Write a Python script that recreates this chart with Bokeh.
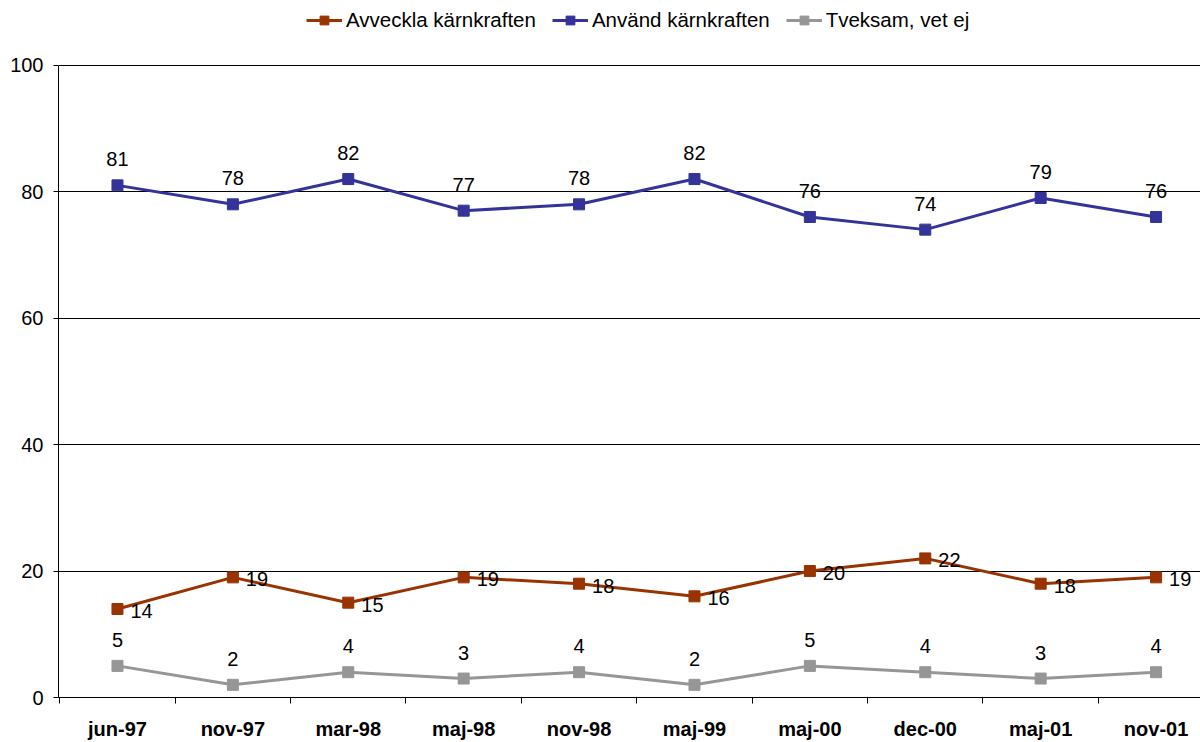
from bokeh.plotting import figure
from bokeh.models import Range1d, FixedTicker, Legend, LegendItem, ColumnDataSource
from bokeh.embed import file_html
from bokeh.resources import INLINE
from bokeh.core.properties import value

categories = ["jun-97", "nov-97", "mar-98", "maj-98", "nov-98", "maj-99", "maj-00", "dec-00", "maj-01", "nov-01"]
avveckla = [14, 19, 15, 19, 18, 16, 20, 22, 18, 19]
anvand = [81, 78, 82, 77, 78, 82, 76, 74, 79, 76]
tveksam = [5, 2, 4, 3, 4, 2, 5, 4, 3, 4]
series_names = ["Avveckla kärnkraften", "Använd kärnkraften", "Tveksam, vet ej"]
colors = ["#993300", "#333399", "#969696"]
y_ticks = [0, 20, 40, 60, 80, 100]

FONT = "Liberation Sans"
xs = list(range(len(categories)))

p = figure(width=1200, height=742, output_backend="svg", toolbar_location=None,
           x_range=Range1d(-0.511, 9.385), y_range=Range1d(0, 110.24),
           min_border_left=58, min_border_right=0, min_border_top=0, min_border_bottom=42)
p.outline_line_color = None
p.background_fill_color = "white"
p.border_fill_color = "white"

# axes
p.xaxis.ticker = FixedTicker(ticks=xs, minor_ticks=[i - 0.5 for i in range(len(categories) + 1)])
p.xaxis.major_label_overrides = {i: c for i, c in enumerate(categories)}
p.xaxis.major_tick_out = 0
p.xaxis.major_tick_in = 0
p.xaxis.minor_tick_out = 6
p.xaxis.minor_tick_in = 0
p.xaxis.minor_tick_line_color = "black"
p.xaxis.axis_line_color = "black"
p.xaxis.major_label_text_font = FONT
p.xaxis.major_label_text_font_style = "bold"
p.xaxis.major_label_text_font_size = "20px"
p.xaxis.major_label_text_color = "black"
p.xaxis.major_label_standoff = 14

p.yaxis.ticker = FixedTicker(ticks=y_ticks)
p.yaxis.bounds = (0, 100)
p.yaxis.major_tick_out = 5
p.yaxis.major_tick_in = 0
p.yaxis.minor_tick_line_color = None
p.yaxis.axis_line_color = "black"
p.yaxis.major_tick_line_color = "black"
p.yaxis.major_label_text_font = FONT
p.yaxis.major_label_text_font_size = "20px"
p.yaxis.major_label_text_color = "black"
p.yaxis.major_label_standoff = 10

p.xgrid.grid_line_color = None
p.ygrid.ticker = FixedTicker(ticks=y_ticks)
p.ygrid.grid_line_color = "black"
p.ygrid.grid_line_width = 1

items = []
all_series = [avveckla, anvand, tveksam]
for name, vals, col in zip(series_names, all_series, colors):
    src = ColumnDataSource(dict(x=xs, y=vals, lab=[str(v) for v in vals]))
    l = p.line("x", "y", source=src, line_color=col, line_width=3)
    s = p.scatter("x", "y", source=src, marker="square", size=11, fill_color=col, line_color=col)
    items.append(LegendItem(label=name, renderers=[l, s]))
    if name == series_names[0]:
        p.text("x", "y", text="lab", source=src, x_offset=13, y_offset=2,
               text_font=value(FONT), text_font_size="20px", text_color="black",
               text_align="left", text_baseline="middle")
    else:
        p.text("x", "y", text="lab", source=src, x_offset=0, y_offset=-26,
               text_font=value(FONT), text_font_size="20px", text_color="black",
               text_align="center", text_baseline="middle")

legend = Legend(items=items, orientation="horizontal", location=(248, 665),
                padding=0, margin=0, spacing=16, glyph_width=36, glyph_height=22,
                label_height=22, label_standoff=4, label_text_font=FONT,
                label_text_font_size="20.5px", label_text_color="black",
                border_line_color=None, background_fill_alpha=0)
p.add_layout(legend, "center")

open("out.html", "w").write(file_html(p, INLINE))
